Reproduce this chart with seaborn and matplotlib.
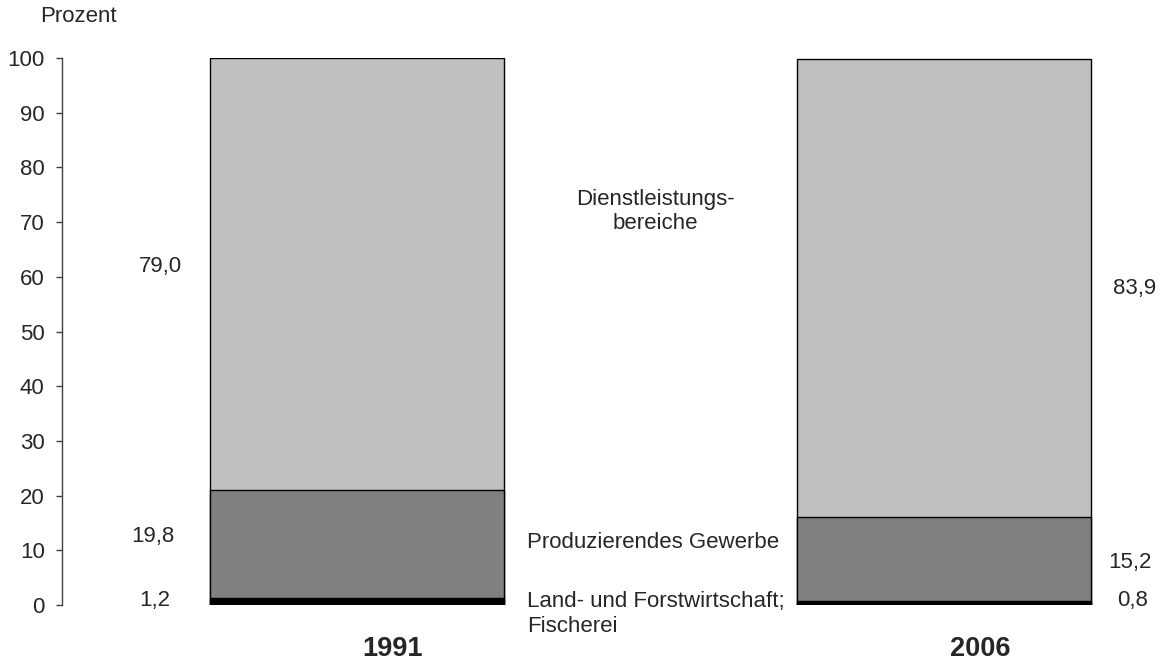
import numpy as np
import pandas as pd
import matplotlib
matplotlib.use('Agg')
import matplotlib.pyplot as plt
import seaborn as sns

# ============================================================================
# DATA
# ============================================================================
years = ['1991', '2006']
land = [1.2, 0.8]          # Land- und Forstwirtschaft; Fischerei
produz = [19.8, 15.2]      # Produzierendes Gewerbe
dienst = [79.0, 83.9]      # Dienstleistungsbereiche

# value labels shown next to the bars
lab_land = ['1,2', '0,8']
lab_produz = ['19,8', '15,2']
lab_dienst = ['79,0', '83,9']

yticks = list(range(0, 101, 10))

# ============================================================================
# STYLE
# ============================================================================
sns.set_style('white')
plt.rcParams['font.family'] = ['Liberation Sans', 'DejaVu Sans']
fs = 16

# cumulative heights -> layered bars give the stacked look
df = pd.DataFrame({'year': years, 'land': land, 'produz': produz, 'dienst': dienst})
df['c1'] = df['land']
df['c2'] = df['land'] + df['produz']
df['c3'] = df['c2'] + df['dienst']

fig = plt.figure(figsize=(11.66, 6.66), dpi=100)
ax = fig.add_axes([0.0532, 0.0916, 0.9468, 0.8213])

layers = [('c3', '#c0c0c0'), ('c2', '#808080'), ('c1', '#000000')]
for col, colr in layers:
    sns.barplot(data=df, x='year', y=col, order=years, color=colr, width=0.5,
                edgecolor='black', linewidth=1.0, errorbar=None, saturation=1, ax=ax)

ax.set_xlim(-0.501, 1.377)
ax.set_ylim(0, 100)
ax.set_yticks(yticks)
ax.set_yticklabels([str(t) for t in yticks], fontsize=fs)
ax.set_xticks([])
ax.set_xlabel('')
ax.set_ylabel('')
for s in ['top', 'right', 'bottom']:
    ax.spines[s].set_visible(False)
ax.spines['left'].set_color('#404040')
ax.spines['left'].set_linewidth(1.0)
ax.tick_params(axis='y', direction='out', length=4, width=1.0, color='#404040', pad=8.5, left=True)

# value labels
left_x = [-0.333, -0.346, -0.344]
right_x = [1.324, 1.316, 1.320]
ax.text(left_x[0], 61.9, lab_dienst[0], ha='center', va='center', fontsize=fs)
ax.text(left_x[1], 12.6, lab_produz[0], ha='center', va='center', fontsize=fs)
ax.text(left_x[2], 0.9, lab_land[0], ha='center', va='center', fontsize=fs)
ax.text(right_x[0], 57.9, lab_dienst[1], ha='center', va='center', fontsize=fs)
ax.text(right_x[1], 7.7, lab_produz[1], ha='center', va='center', fontsize=fs)
ax.text(right_x[2], 0.9, lab_land[1], ha='center', va='center', fontsize=fs)

# sector names between the bars
ax.text(0.508, 71.9, 'Dienstleistungs-\nbereiche', ha='center', va='center',
        fontsize=fs, linespacing=1.2)
ax.text(0.29, 11.4, 'Produzierendes Gewerbe', ha='left', va='center', fontsize=fs)
ax.text(0.29, -1.65, 'Land- und Forstwirtschaft;\nFischerei', ha='left', va='center',
        fontsize=fs, linespacing=1.2, clip_on=False)

# year labels
for i, yr in enumerate(years):
    ax.text(i + 0.061, -8.1, yr, ha='center', va='center', fontsize=19.5,
            fontweight='bold', clip_on=False)

fig.text(0.0669, 0.9745, 'Prozent', ha='center', va='center', fontsize=fs)

plt.savefig('out.png', dpi=100)
